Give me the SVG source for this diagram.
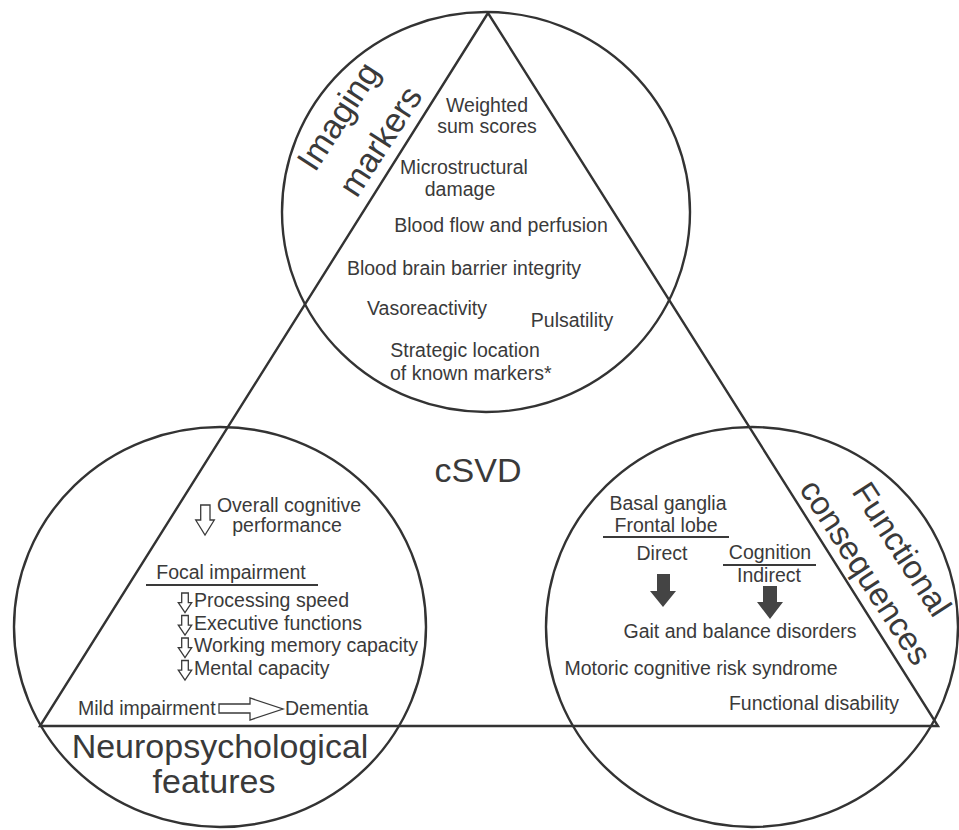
<svg xmlns="http://www.w3.org/2000/svg" width="959" height="830" viewBox="0 0 959 830">
<style>
.ln{fill:none;stroke:#333;stroke-width:2.4}
.t{font-family:"Liberation Sans",Arial,sans-serif;font-size:19.5px;fill:#3a3a3a}
.m{text-anchor:middle}
.big{font-family:"Liberation Sans",Arial,sans-serif;font-size:34px;fill:#3a3a3a;text-anchor:middle}
.rot{font-size:33px}
.oa{fill:#fff;stroke:#3a3a3a;stroke-width:1.3}
.fa{fill:#444;stroke:none}
.ul{stroke:#3a3a3a;stroke-width:2}
</style>
<rect width="959" height="830" fill="#fff"/>
<g id="frame">
<polygon class="ln" points="488,13 40,726 938,726"/>
</g>
<g id="imaging">
<ellipse class="ln" cx="486" cy="212" rx="204" ry="200"/>
<text class="big" transform="translate(338,116) rotate(-57)" dominant-baseline="central">Imaging</text>
<text class="big" transform="translate(380,141) rotate(-57)" dominant-baseline="central">markers</text>
<text class="t m" x="487" y="112">Weighted</text>
<text class="t m" x="487" y="133">sum scores</text>
<text class="t m" x="464" y="174">Microstructural</text>
<text class="t m" x="460" y="196">damage</text>
<text class="t m" x="501" y="232">Blood flow and perfusion</text>
<text class="t m" x="464" y="275">Blood brain barrier integrity</text>
<text class="t m" x="427" y="315">Vasoreactivity</text>
<text class="t m" x="572" y="327">Pulsatility</text>
<text class="t m" x="465" y="357">Strategic location</text>
<text class="t" x="390" y="380">of known markers*</text>
</g>
<g id="center">
<text class="big" x="478" y="482">cSVD</text>
</g>
<g id="neuro">
<ellipse class="ln" cx="220" cy="627" rx="206" ry="200"/>
<polygon class="oa" points="200.7,505 210,505 210,520 214.3,520 205,535 195.7,520 200.7,520"/>
<text class="t m" x="289" y="512">Overall cognitive</text>
<text class="t m" x="287" y="532">performance</text>
<text class="t m" x="231" y="579">Focal impairment</text>
<line class="ul" x1="146" y1="585" x2="318" y2="585"/>
<polygon class="oa" points="181.7,593 188.3,593 188.3,602.7 191.7,602.7 185,612.7 178.3,602.7 181.7,602.7"/>
<polygon class="oa" points="181.7,615.5 188.3,615.5 188.3,625.2 191.7,625.2 185,635.2 178.3,625.2 181.7,625.2"/>
<polygon class="oa" points="181.7,638 188.3,638 188.3,647.7 191.7,647.7 185,657.7 178.3,647.7 181.7,647.7"/>
<polygon class="oa" points="181.7,660.5 188.3,660.5 188.3,670.2 191.7,670.2 185,680.2 178.3,670.2 181.7,670.2"/>
<text class="t" x="194" y="607">Processing speed</text>
<text class="t" x="194" y="629.5">Executive functions</text>
<text class="t" x="194" y="652">Working memory capacity</text>
<text class="t" x="194" y="674.5">Mental capacity</text>
<text class="t" x="78" y="715">Mild impairment</text>
<polygon class="oa" points="219,704 250,704 250,698 283,709 250,720 250,713 219,713"/>
<text class="t" x="285" y="715">Dementia</text>
<text class="big" x="220" y="758">Neuropsychological</text>
<text class="big" x="214" y="793">features</text>
</g>
<g id="functional">
<ellipse class="ln" cx="752" cy="627" rx="206" ry="200"/>
<text class="big rot" transform="translate(902,549) rotate(57)" dominant-baseline="central">Functional</text>
<text class="big rot" transform="translate(866,572) rotate(57)" dominant-baseline="central">consequences</text>
<text class="t m" x="668" y="510">Basal ganglia</text>
<text class="t m" x="666" y="532">Frontal lobe</text>
<line class="ul" x1="603" y1="537" x2="729" y2="537"/>
<text class="t m" x="662" y="560">Direct</text>
<text class="t m" x="770" y="559">Cognition</text>
<line class="ul" x1="723" y1="565" x2="816" y2="565"/>
<text class="t m" x="769" y="582">Indirect</text>
<polygon class="fa" points="657,574 670,574 670,591 676,591 663,607 650,591 657,591"/>
<polygon class="fa" points="763,586 777,586 777,602 783,602 770,619 757,602 763,602"/>
<text class="t m" x="740" y="638">Gait and balance disorders</text>
<text class="t m" x="701" y="675">Motoric cognitive risk syndrome</text>
<text class="t m" x="814" y="710">Functional disability</text>
</g>
</svg>
